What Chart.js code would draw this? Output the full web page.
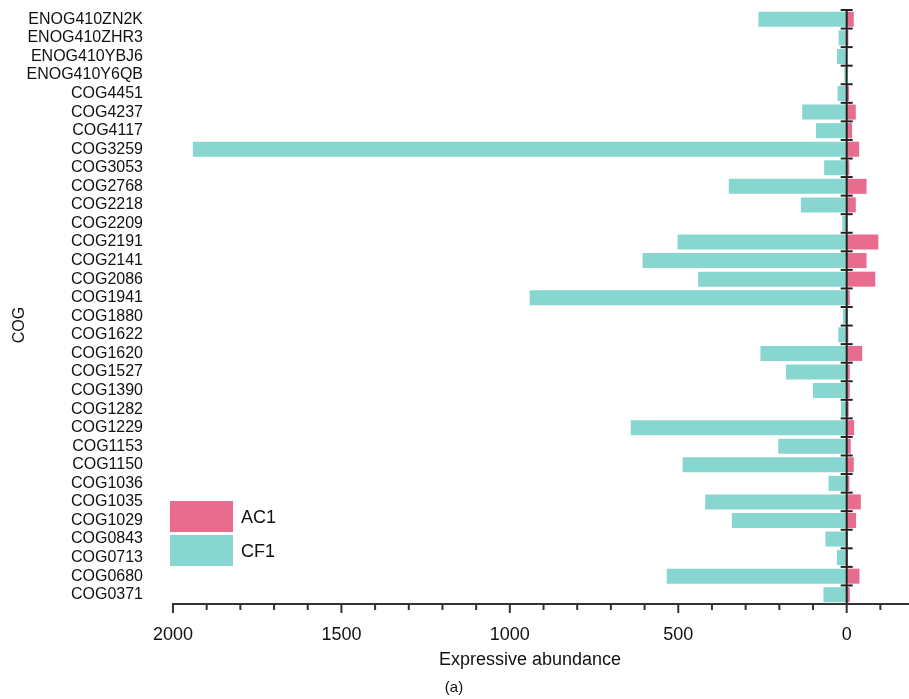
<!DOCTYPE html>
<html>
<head>
<meta charset="utf-8">
<script src="https://cdn.jsdelivr.net/npm/chart.js@4.4.1/dist/chart.umd.min.js"></script>
<style>
  html, body { margin: 0; padding: 0; background: #fff; }
  #wrap { width: 909px; height: 699px; position: relative; }
</style>
</head>
<body>
<div id="wrap"><canvas id="cogChart"></canvas></div>
<script>
var categories = ["ENOG410ZN2K", "ENOG410ZHR3", "ENOG410YBJ6", "ENOG410Y6QB", "COG4451", "COG4237",
  "COG4117", "COG3259", "COG3053", "COG2768", "COG2218", "COG2209", "COG2191", "COG2141", "COG2086",
  "COG1941", "COG1880", "COG1622", "COG1620", "COG1527", "COG1390", "COG1282", "COG1229", "COG1153",
  "COG1150", "COG1036", "COG1035", "COG1029", "COG0843", "COG0713", "COG0680", "COG0371"];

// CF1 drawn to the left (positive), AC1 to the right (stored negative on the reversed axis)
var cf1Values = [262, 24, 29, 7, 27, 132, 91, 1941, 67, 350, 136, 13, 502, 606, 441, 941, 11, 25,
  256, 180, 100, 17, 641, 203, 487, 54, 420, 341, 63, 29, 534, 69];
var ac1Values = [21, 5, 1, 0, 7, 27, 16, 37, 8, 59, 27, 2, 94, 59, 85, 9, 3, 5,
  46, 9, 9, 6, 22, 12, 21, 8, 42, 28, 4, 4, 38, 9];

var xTicks = [2000, 1500, 1000, 500, 0];
var minorStep = 100;

var FONT = "'Liberation Sans', Arial, Helvetica, sans-serif";
var pink = "#E76C8E";
var teal = "#87D6D0";

var decorPlugin = {
  id: "decor",
  afterDatasetsDraw: function (chart) {
    var ctx = chart.ctx;
    var xs = chart.scales.x, ys = chart.scales.y;
    var area = chart.chartArea;
    var x0 = xs.getPixelForValue(0);
    ctx.save();
    ctx.strokeStyle = "#222";
    ctx.lineWidth = 2;
    // zero line
    ctx.beginPath();
    ctx.moveTo(x0, area.top);
    ctx.lineTo(x0, area.bottom);
    ctx.stroke();
    // little crosses between categories
    var step = (area.bottom - area.top) / categories.length;
    for (var i = 0; i < categories.length; i++) {
      var y = ys.getPixelForValue(i) - step / 2;
      ctx.beginPath();
      ctx.moveTo(x0 - 6, y);
      ctx.lineTo(x0 + 6, y);
      ctx.stroke();
    }
    // x axis ticks, major every 500, minor every 100
    ctx.strokeStyle = "#333";
    for (var v = -100; v <= 2000; v += minorStep) {
      if (v < xs.min) continue;
      var px = xs.getPixelForValue(v);
      ctx.beginPath();
      ctx.moveTo(px, area.bottom);
      ctx.lineTo(px, area.bottom + (v % 500 === 0 ? 9 : 6));
      ctx.stroke();
    }
    ctx.restore();
  },
  afterDraw: function (chart) {
    var ctx = chart.ctx;
    var area = chart.chartArea;
    ctx.save();
    // legend
    var ds = chart.data.datasets;
    var lx = area.left - 3, ly = 501;
    ctx.font = "18px " + FONT;
    ctx.textBaseline = "middle";
    ctx.textAlign = "left";
    for (var i = 0; i < ds.length; i++) {
      var top = ly + i * 34;
      ctx.fillStyle = ds[i].backgroundColor;
      ctx.fillRect(lx, top, 63, 31);
      ctx.fillStyle = "#111";
      ctx.fillText(ds[i].label, lx + 71, top + 17);
    }
    // axis titles and caption
    ctx.textAlign = "center";
    ctx.fillText("Expressive abundance", 530, 660);
    ctx.font = "15px " + FONT;
    ctx.fillText("(a)", 454, 688);
    ctx.font = "16px " + FONT;
    ctx.translate(20, 325);
    ctx.rotate(-Math.PI / 2);
    ctx.fillText("COG", 0, 0);
    ctx.restore();
  }
};

var ctx = document.getElementById("cogChart").getContext("2d");
var cogChart = new Chart(ctx, {
  type: "bar",
  data: {
    labels: categories,
    datasets: [
      {
        label: "AC1",
        data: ac1Values.map(function (v) { return -v; }),
        backgroundColor: pink,
        borderWidth: 0
      },
      {
        label: "CF1",
        data: cf1Values,
        backgroundColor: teal,
        borderWidth: 0
      }
    ]
  },
  options: {
    indexAxis: "y",
    responsive: true,
    maintainAspectRatio: false,
    animation: false,
    layout: { padding: { top: 10, right: 0, bottom: 0, left: 0 } },
    datasets: { bar: { barPercentage: 0.9, categoryPercentage: 0.9 } },
    plugins: {
      legend: { display: false },
      tooltip: { enabled: false }
    },
    scales: {
      x: {
        stacked: true,
        reverse: true,
        min: -185,
        max: 2000,
        afterBuildTicks: function (s) {
          s.ticks = xTicks.map(function (v) { return { value: v }; });
        },
        afterFit: function (s) {
          s.height = 95;
          s.paddingLeft = 0;
          s.paddingRight = 0;
        },
        grid: { display: false, drawTicks: false },
        border: { display: true, color: "#333", width: 2 },
        ticks: {
          padding: 20,
          color: "#111",
          font: { family: FONT, size: 18 },
          maxRotation: 0,
          autoSkip: false,
          callback: function (v) { return String(v); }
        }
      },
      y: {
        stacked: true,
        afterFit: function (s) {
          s.width = 173;
          s.paddingTop = 0;
          s.paddingBottom = 0;
        },
        grid: { display: false, drawTicks: false },
        border: { display: false },
        ticks: {
          padding: 30,
          color: "#111",
          font: { family: FONT, size: 16 },
          autoSkip: false
        }
      }
    }
  },
  plugins: [decorPlugin]
});
</script>
</body>
</html>
